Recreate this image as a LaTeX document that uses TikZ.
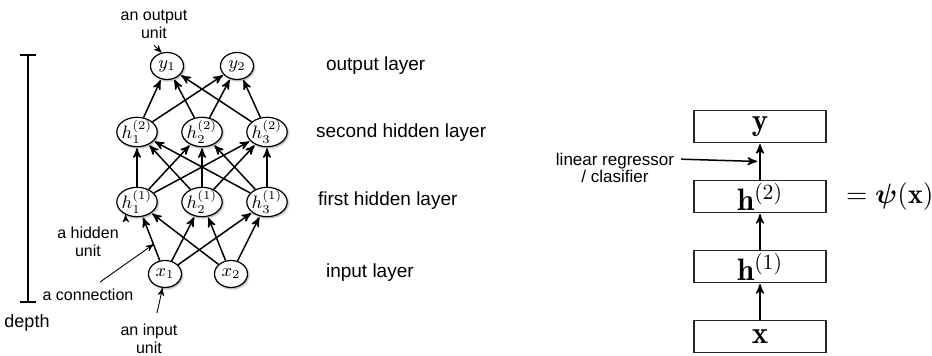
\RequirePackage{fix-cm}
\documentclass[tikz,border=0pt]{standalone}
\usepackage{amsmath}
\usepackage{fontspec}
\setsansfont{Liberation Sans}
\usetikzlibrary{arrows,positioning,shapes.geometric,shadows,shadows.blur}
\tikzset{
    %Define standard arrow tip
    >=stealth',
    font=\sffamily\fontsize{9.5}{9}\selectfont,
    % Define style for the units of the network
    neuron/.style={ellipse,fill=white,draw=black,line width=0.6pt,inner sep=-0.5pt,
           minimum width=16.5pt,minimum height=13.5pt,
           font=\fontsize{9}{9}\selectfont,
           blur shadow={shadow blur steps=5,shadow xshift=0.5pt,shadow yshift=-0.6pt,shadow blur radius=1pt}},
    % Define arrow style
    conn/.style={
           ->,
           line width=0.75pt,
           shorten >=0.5pt},
    % Define style for the annotations
    note/.style={font=\sffamily\fontsize{8}{9}\selectfont,align=center},
    pointer/.style={->,line width=0.45pt},
    % Define style for the layer boxes
    layerbox/.style={
           rectangle,
           draw=black!85,line width=0.6pt,
           minimum width=66pt,
           minimum height=16pt,
           inner sep=1pt,
           font=\fontsize{15.5}{16}\selectfont},
    layername/.style={anchor=west}
}

\begin{document}
\begin{tikzpicture}[x=0.5pt,y=-0.5pt,node distance=32.5pt,on grid]
  \useasboundingbox (0,0) rectangle (932,356);
  % network
  \node[neuron] (h11) at (137,202) {$h^{(1)}_1$};
  \node[neuron] (h21) [right=of h11] {$h^{(1)}_2$};
  \node[neuron] (h31) [right=of h21] {$h^{(1)}_3$};
  \node[neuron] (h12) [above=35pt of h11] {$h^{(2)}_1$};
  \node[neuron] (h22) [right=of h12] {$h^{(2)}_2$};
  \node[neuron] (h32) [right=of h22] {$h^{(2)}_3$};
  \node[neuron] (y1) [above right=33pt and 15pt of h12] {$y_1$};
  \node[neuron] (y2) [right=35pt of y1] {$y_2$};
  \node[neuron] (x1) [below right=36pt and 14pt of h11] {$x_1$};
  \node[neuron] (x2) [right=33pt of x1] {$x_2$};
  \foreach \i in {1,2}
    \foreach \j in {1,2,3}
      \draw[conn] (x\i) -- (h\j1);
  \foreach \i in {1,2,3}
    \foreach \j in {1,2,3}
      \draw[conn] (h\i1) -- (h\j2);
  \foreach \i in {1,2,3}
    \foreach \j in {1,2}
      \draw[conn] (h\i2) -- (y\j);

  \node[layername] (lout) at (319,66) {output layer};
  \node[layername] (lsec) at (309,133) {second hidden layer};
  \node[layername] (lfir) at (311,201) {first hidden layer};
  \node[layername] (linp) at (319,273) {input layer};

  % depth
  \coordinate (dtop) at (28,54);
  \coordinate (dbot) at (28,303);
  \draw[line width=1pt,|-|] (dtop) -- (dbot);
  \node[font=\sffamily\fontsize{9}{9}\selectfont] (depth) at (27,323) {depth};

  % annotations
  \node[note] (outlbl) at (154,24) {an output\\unit};
  \draw[pointer] (outlbl.south) -- (y1.112);
  \node[note] (hidlbl) at (88,242) {a hidden\\unit};
  \draw[pointer] (hidlbl.north east) -- (h11.228);
  \node[note] (conlbl) at (88,295) {a connection};
  \path (x1) -- (h11) coordinate[pos=0.37] (conpt);
  \draw[pointer] ([xshift=6pt]conlbl.north) -- (conpt);
  \node[note] (inplbl) at (149,339) {an input\\unit};
  \draw[pointer] ([xshift=4pt,yshift=2pt]inplbl.north) -- (x1.260);

  % layer stack
  \node[layerbox] (xbox) at (760,336.5) {$\mathbf{x}$};
  \node[layerbox] (hbox1) [above=35pt of xbox] {$\mathbf{h}^{(1)}$};
  \node[layerbox] (hbox2) [above=35pt of hbox1] {$\mathbf{h}^{(2)}$};
  \node[layerbox] (ybox) [above=35pt of hbox2] {$\mathbf{y}$};
  \draw[conn] (xbox) -- (hbox1);
  \draw[conn] (hbox1) -- (hbox2);
  \draw[conn] (hbox2) -- (ybox);
  \node[on grid=false,inner sep=2pt,font=\fontsize{14}{16}\selectfont] (psi) [right=7.5pt of hbox2] {$=\boldsymbol{\psi}(\mathbf{x})$};

  \node[note,font=\sffamily\fontsize{8.5}{8.5}\selectfont] (lrlbl) at (615,168) {linear regressor\\/ clasifier};
  \path (hbox2) -- (ybox) coordinate[pos=0.5] (lrpt);
  \draw[conn] ([yshift=-6.5pt]lrlbl.north east) -- ([xshift=-1pt]lrpt);
\end{tikzpicture}
\end{document}
